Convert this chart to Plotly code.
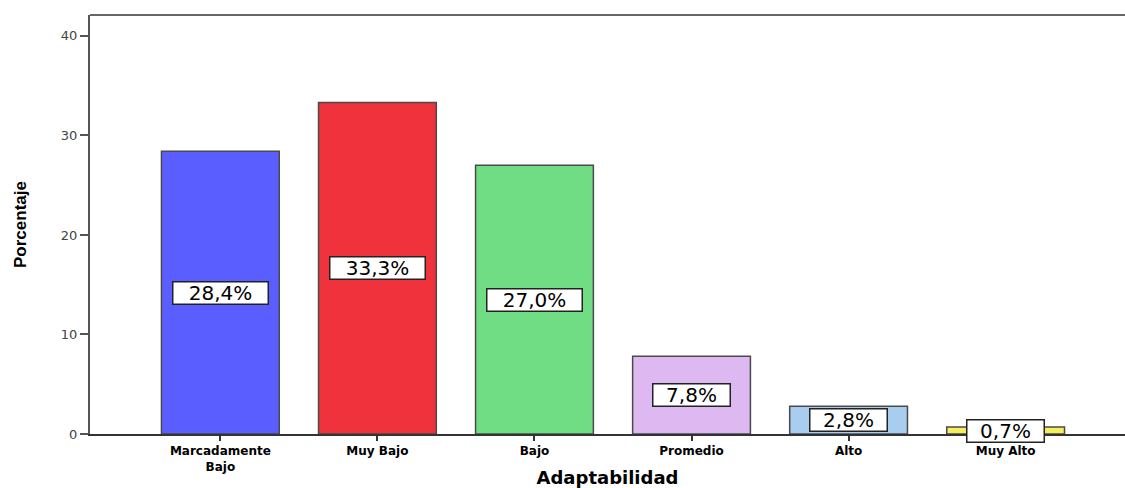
import plotly.graph_objects as go

categories = ["Marcadamente<br>Bajo", "Muy Bajo", "Bajo", "Promedio", "Alto", "Muy Alto"]
values = [28.4, 33.3, 27.0, 7.8, 2.8, 0.7]
labels = ["28,4%", "33,3%", "27,0%", "7,8%", "2,8%", "0,7%"]
colors = ["#5A5EFF", "#EF323B", "#70DD84", "#DEB8F0", "#A9CDEE", "#F5EF5E"]
y_ticks = [0, 10, 20, 30, 40]

x_pos = list(range(len(categories)))

fig = go.Figure()
fig.add_trace(go.Bar(
    x=x_pos, y=values, width=0.75,
    marker=dict(color=colors, line=dict(color="#4a4a4a", width=1.5)),
    showlegend=False, hoverinfo="skip",
))

for xi, v, lab in zip(x_pos, values, labels):
    w = 94 if len(lab) == 5 else 76
    fig.add_annotation(
        x=xi, y=v / 2, xref="x", yref="y", text=lab, showarrow=False,
        font=dict(family="DejaVu Sans", size=20, color="black"),
        bgcolor="white", bordercolor="#222222", borderwidth=1.5, borderpad=0,
        width=w, height=21,
    )

fig.add_shape(type="line", xref="paper", yref="paper", x0=0, x1=1, y0=1, y1=1,
              line=dict(color="#666666", width=2))

fig.update_layout(
    width=1125, height=488,
    margin=dict(l=90, r=0, t=15, b=54),
    paper_bgcolor="white", plot_bgcolor="white",
    xaxis=dict(
        range=[-0.83, 5.76], tickmode="array", tickvals=x_pos, ticktext=categories,
        automargin=False,
        showline=True, linecolor="#333333", linewidth=1.5,
        ticks="outside", ticklen=5, tickwidth=2, tickcolor="#333333",
        tickfont=dict(family="DejaVu Sans", size=12, color="black", weight="bold"),
        showgrid=False, zeroline=False,
        title=dict(text="Adaptabilidad", standoff=20,
                   font=dict(family="DejaVu Sans", size=18, color="black", weight="bold")),
    ),
    yaxis=dict(
        range=[0, 42.1], tickmode="array", tickvals=y_ticks,
        automargin=False,
        showline=True, linecolor="#555555", linewidth=2,
        ticks="outside", ticklen=8, tickwidth=1.5, tickcolor="#555555",
        tickfont=dict(family="DejaVu Sans", size=13, color="#444444"),
        showgrid=False, zeroline=False,
        title=dict(text="Porcentaje", standoff=30,
                   font=dict(family="Liberation Sans Narrow, Liberation Sans", size=17, color="black", weight="bold")),
    ),
)

fig.write_html("out.html")
